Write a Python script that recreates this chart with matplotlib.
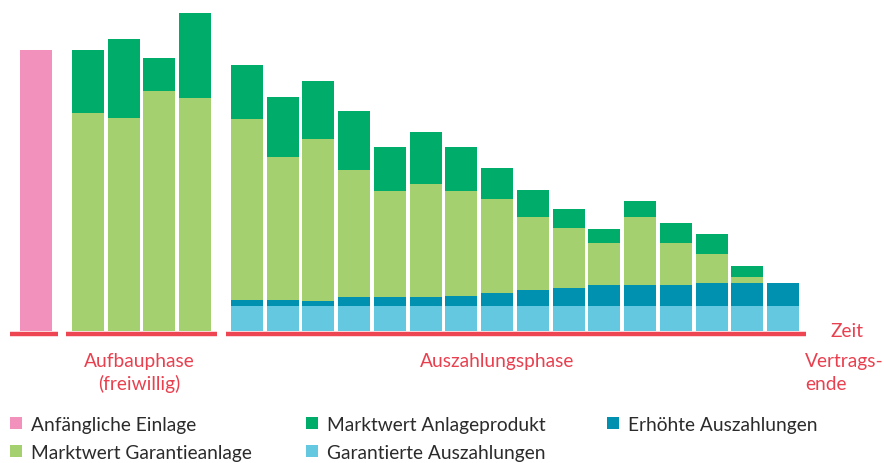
import matplotlib
matplotlib.use("Agg")
import matplotlib.pyplot as plt
from matplotlib.patches import Rectangle
import numpy as np

plt.rcParams['font.family'] = ['Lato', 'DejaVu Sans']

# ---- data (arbitrary value units) ----
initial_deposit = [281]

build_guarantee = [218, 213, 240, 233]
build_product = [63, 79, 33, 85]

pay_guaranteed = [25] * 16
pay_increased = [6, 6, 5, 9, 9, 9, 10, 13, 16, 18, 21, 21, 21, 23, 23, 23]
pay_guarantee_val = [181, 143, 162, 127, 106, 113, 105, 94, 73, 60, 42, 68, 42, 29, 6, 0]
pay_product_val = [54, 60, 58, 59, 44, 52, 44, 31, 27, 19, 14, 16, 20, 20, 11, 0]

legend_labels = ["Anfängliche Einlage", "Marktwert Anlageprodukt", "Erhöhte Auszahlungen",
                 "Marktwert Garantieanlage", "Garantierte Auszahlungen"]
phase_build = ["Aufbauphase", "(freiwillig)"]
phase_pay = "Auszahlungsphase"
axis_label = "Zeit"
end_label = ["Vertrags-", "ende"]

# ---- styles ----
C_PINK = "#F291BC"
C_LGREEN = "#A4D06F"
C_DGREEN = "#00AC6A"
C_DBLUE = "#0091B0"
C_LBLUE = "#64C9E0"
C_RED = "#EE3B4A"
C_TEXT_RED = "#E9404F"
C_TEXT = "#2b2b2b"

W, H = 884, 464
fig = plt.figure(figsize=(W / 100, H / 100), dpi=100)
ax = fig.add_axes([0, 0, 1, 1])
ax.set_axis_off()

pitch_px = 35.75
x0_px = 36
ax.set_xlim(-x0_px / pitch_px, (W - x0_px) / pitch_px)
base_px = 332
ax.set_ylim(-(H - base_px), base_px)

bw = 0.895
gap = 0.45

x_init = np.array([0.0])
x_build = 1 + gap + np.arange(len(build_guarantee))
x_pay = x_build[-1] + 1 + gap + np.arange(len(pay_guaranteed))

ax.bar(x_init, initial_deposit, width=bw, color=C_PINK, linewidth=0)
ax.bar(x_build, build_guarantee, width=bw, color=C_LGREEN, linewidth=0)
ax.bar(x_build, build_product, width=bw, bottom=build_guarantee, color=C_DGREEN, linewidth=0)

b1 = np.array(pay_guaranteed)
b2 = b1 + np.array(pay_increased)
b3 = b2 + np.array(pay_guarantee_val)
ax.bar(x_pay, pay_guaranteed, width=bw, color=C_LBLUE, linewidth=0)
ax.bar(x_pay, pay_increased, width=bw, bottom=b1, color=C_DBLUE, linewidth=0)
ax.bar(x_pay, pay_guarantee_val, width=bw, bottom=b2, color=C_LGREEN, linewidth=0)
ax.bar(x_pay, pay_product_val, width=bw, bottom=b3, color=C_DGREEN, linewidth=0)

# baseline segments
ly = -2.5
segs = ((x_init, 10, 6), (x_build, 6, 6), (x_pay, 5, 7))
for xs, lext, rext in segs:
    ax.plot([xs[0] - bw / 2 - lext / pitch_px, xs[-1] + bw / 2 + rext / pitch_px],
            [ly, ly], color=C_RED, lw=3.2, solid_capstyle="butt", alpha=0.95)

fs = 13.8
def px(x, y):
    return x / W, 1 - y / H

fig.text(*px(139, 367), phase_build[0], color=C_TEXT_RED, fontsize=fs, ha="center", va="baseline")
fig.text(*px(139, 390), phase_build[1], color=C_TEXT_RED, fontsize=fs, ha="center", va="baseline")
fig.text(*px(497, 367), phase_pay, color=C_TEXT_RED, fontsize=fs, ha="center", va="baseline")
fig.text(*px(830, 337), axis_label, color=C_TEXT_RED, fontsize=fs, ha="left", va="baseline")
fig.text(*px(805, 367), end_label[0], color=C_TEXT_RED, fontsize=fs, ha="left", va="baseline")
fig.text(*px(805, 390), end_label[1], color=C_TEXT_RED, fontsize=fs, ha="left", va="baseline")

# legend (manual, row-wise)
leg_colors = [C_PINK, C_DGREEN, C_DBLUE, C_LGREEN, C_LBLUE]
col_x = [10, 306, 607]
row_y = [424, 452]
for i, (lab, col) in enumerate(zip(legend_labels, leg_colors)):
    r, c = divmod(i, 3)
    x, y = col_x[c], row_y[r]
    fig.patches.append(Rectangle((x / W, 1 - (y + 6) / H), 11.5 / W, 12 / H,
                                 transform=fig.transFigure, color=col, linewidth=0))
    fig.text(*px(x + 21, y + 7), lab, color=C_TEXT, fontsize=fs, ha="left", va="baseline")

fig.savefig("out.png", dpi=100)
